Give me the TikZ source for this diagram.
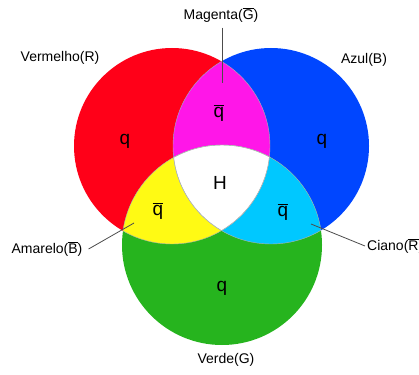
\documentclass[tikz,border=0pt]{standalone}
\usepackage{fontspec}
\setmainfont{Liberation Sans}
\usepackage{tikz}
\usetikzlibrary{positioning}

\definecolor{cred}{RGB}{255,0,24}
\definecolor{cblue}{RGB}{0,70,255}
\definecolor{cgreen}{RGB}{38,180,30}
\definecolor{cmag}{RGB}{255,22,232}
\definecolor{cyel}{RGB}{255,250,20}
\definecolor{ccyan}{RGB}{0,200,255}

\newcommand{\ovl}[1]{$\overline{\hbox{#1}}$}
\newcommand{\circR}{(172,146) circle [radius=98pt]}
\newcommand{\circB}{(271,146) circle [radius=98pt]}
\newcommand{\circG}{(222,245) circle [radius=100pt]}

\begin{document}
\begin{tikzpicture}[x=1pt,y=-1pt,
  lbl/.style={font=\fontsize{14}{16}\selectfont, inner sep=1pt},
  sym/.style={font=\fontsize{19}{21}\selectfont, inner sep=0pt},
  edge/.style={draw=black!30, line width=0.4pt},
  pointer/.style={draw=black!70, line width=0.8pt}]
\useasboundingbox (0,0) rectangle (419,374);

% circles
\fill[cred] \circR;
\fill[cblue] \circB;
\fill[cgreen] \circG;

% overlaps
\begin{scope}
  \clip \circR;
  \fill[cmag] \circB;
  \fill[cyel] \circG;
\end{scope}
\begin{scope}
  \clip \circB;
  \fill[ccyan] \circG;
  \begin{scope}
    \clip \circR;
    \fill[white] \circG;
  \end{scope}
\end{scope}

% inner borders
\begin{scope}
  \clip \circR;
  \draw[edge] \circB;
  \draw[edge] \circG;
\end{scope}
\begin{scope}
  \clip \circB;
  \draw[edge] \circR;
  \draw[edge] \circG;
\end{scope}
\begin{scope}
  \clip \circG;
  \draw[edge] \circR;
  \draw[edge] \circB;
\end{scope}

% region labels
\node[sym] (qr) at (125,141) {q};
\node[sym] (qb) at (322,141) {q};
\node[sym] (qg) at (222,288) {q};
\node[sym] (qm) at (219,113) {\ovl{q}};
\node[sym] (qy) at (158,211) {\ovl{q}};
\node[sym] (qc) at (283,212) {\ovl{q}};
\node[sym] (hh) at (220,183) {H};

% colour names
\node[lbl] (vermelho) at (60,58) {Vermelho(R)};
\node[lbl] (azul) at (364,60) {Azul(B)};
\node[lbl] (verde) at (226,360) {Verde(G)};
\node[lbl] (magenta) at (221,15) {Magenta(\ovl{G})};
\node[lbl] (amarelo) at (47,249) {Amarelo(\ovl{B})};
\node[lbl, anchor=west] (ciano) at (366,246) {Ciano(\ovl{R})};

% pointers
\coordinate (magtip) at (222,83);
\coordinate (amtip) at (134,223);
\coordinate (citip) at (311,224);
\draw[pointer] (magtip |- magenta.south) ++(0,4) -- (magtip);
\draw[pointer] ([xshift=5pt]amarelo.east) -- (amtip);
\draw[pointer] (citip) -- ([xshift=-1pt]ciano.west);
\end{tikzpicture}
\end{document}
